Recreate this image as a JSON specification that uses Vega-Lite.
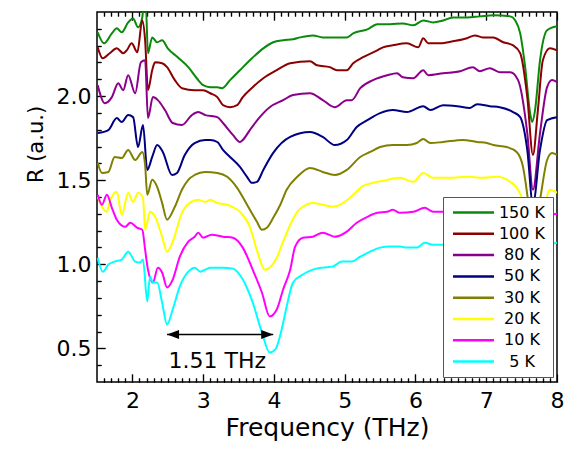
{
  "$schema": "https://vega.github.io/schema/vega-lite/v6.json",
  "width": 460,
  "height": 370,
  "autosize": {"type": "none"},
  "padding": {"left": 97, "top": 12, "right": 17, "bottom": 70},
  "background": "#ffffff",
  "config": {
    "font": "DejaVu Sans",
    "view": {"stroke": "#000000", "strokeWidth": 1.5},
    "axis": {"domain": false, "ticks": true, "tickColor": "black", "tickOpacity": 1, "tickWidth": 1.2, "gridColor": "black", "gridOpacity": 1, "gridWidth": 1.2, "zindex": 2, "labelColor": "#000000", "titleColor": "#000000", "labelFont": "DejaVu Sans", "titleFont": "DejaVu Sans", "titleFontWeight": "normal", "labelFontSize": 22, "titleFontSize": 25, "labelFlush": false, "labelOverlap": false}
  },
  "resolve": {"axis": {"x": "independent", "y": "independent"}},
  "datasets": {
    "spectra": [
      {"T":"150 K","f":1.51,"R":2.379},{"T":"150 K","f":1.60,"R":2.314},{"T":"150 K","f":1.71,"R":2.373},{"T":"150 K","f":1.78,"R":2.403},{"T":"150 K","f":1.85,"R":2.379},{"T":"150 K","f":1.94,"R":2.438},{"T":"150 K","f":2.01,"R":2.462},{"T":"150 K","f":2.08,"R":2.409},{"T":"150 K","f":2.14,"R":2.468},{"T":"150 K","f":2.16,"R":2.54},{"T":"150 K","f":2.19,"R":2.54},{"T":"150 K","f":2.22,"R":2.255},{"T":"150 K","f":2.28,"R":2.349},{"T":"150 K","f":2.35,"R":2.320},{"T":"150 K","f":2.42,"R":2.332},{"T":"150 K","f":2.50,"R":2.284},{"T":"150 K","f":2.64,"R":2.231},{"T":"150 K","f":2.79,"R":2.172},{"T":"150 K","f":2.91,"R":2.106},{"T":"150 K","f":3.00,"R":2.065},{"T":"150 K","f":3.10,"R":2.053},{"T":"150 K","f":3.20,"R":2.053},{"T":"150 K","f":3.27,"R":2.047},{"T":"150 K","f":3.38,"R":2.095},{"T":"150 K","f":3.52,"R":2.154},{"T":"150 K","f":3.66,"R":2.213},{"T":"150 K","f":3.85,"R":2.284},{"T":"150 K","f":3.99,"R":2.320},{"T":"150 K","f":4.13,"R":2.332},{"T":"150 K","f":4.27,"R":2.338},{"T":"150 K","f":4.37,"R":2.349},{"T":"150 K","f":4.55,"R":2.361},{"T":"150 K","f":4.69,"R":2.349},{"T":"150 K","f":4.83,"R":2.349},{"T":"150 K","f":5.03,"R":2.349},{"T":"150 K","f":5.12,"R":2.373},{"T":"150 K","f":5.32,"R":2.397},{"T":"150 K","f":5.46,"R":2.427},{"T":"150 K","f":5.64,"R":2.427},{"T":"150 K","f":5.82,"R":2.432},{"T":"150 K","f":5.97,"R":2.421},{"T":"150 K","f":6.11,"R":2.450},{"T":"150 K","f":6.25,"R":2.438},{"T":"150 K","f":6.39,"R":2.450},{"T":"150 K","f":6.53,"R":2.468},{"T":"150 K","f":6.73,"R":2.468},{"T":"150 K","f":6.91,"R":2.474},{"T":"150 K","f":7.10,"R":2.480},{"T":"150 K","f":7.34,"R":2.474},{"T":"150 K","f":7.41,"R":2.450},{"T":"150 K","f":7.48,"R":2.373},{"T":"150 K","f":7.55,"R":2.172},{"T":"150 K","f":7.62,"R":1.899},{"T":"150 K","f":7.65,"R":1.846},{"T":"150 K","f":7.69,"R":1.917},{"T":"150 K","f":7.76,"R":2.213},{"T":"150 K","f":7.86,"R":2.391},{"T":"150 K","f":8.00,"R":2.415},

      {"T":"100 K","f":1.51,"R":2.290},{"T":"100 K","f":1.58,"R":2.225},{"T":"100 K","f":1.68,"R":2.255},{"T":"100 K","f":1.78,"R":2.284},{"T":"100 K","f":1.87,"R":2.255},{"T":"100 K","f":1.92,"R":2.272},{"T":"100 K","f":1.99,"R":2.314},{"T":"100 K","f":2.07,"R":2.261},{"T":"100 K","f":2.14,"R":2.450},{"T":"100 K","f":2.18,"R":2.332},{"T":"100 K","f":2.22,"R":2.035},{"T":"100 K","f":2.28,"R":2.154},{"T":"100 K","f":2.32,"R":2.201},{"T":"100 K","f":2.42,"R":2.195},{"T":"100 K","f":2.49,"R":2.172},{"T":"100 K","f":2.60,"R":2.095},{"T":"100 K","f":2.70,"R":2.047},{"T":"100 K","f":2.88,"R":2.035},{"T":"100 K","f":3.00,"R":2.035},{"T":"100 K","f":3.10,"R":2.017},{"T":"100 K","f":3.20,"R":1.994},{"T":"100 K","f":3.28,"R":1.946},{"T":"100 K","f":3.38,"R":1.934},{"T":"100 K","f":3.48,"R":1.946},{"T":"100 K","f":3.56,"R":1.994},{"T":"100 K","f":3.70,"R":2.053},{"T":"100 K","f":3.85,"R":2.106},{"T":"100 K","f":4.04,"R":2.154},{"T":"100 K","f":4.23,"R":2.195},{"T":"100 K","f":4.51,"R":2.207},{"T":"100 K","f":4.61,"R":2.183},{"T":"100 K","f":4.79,"R":2.172},{"T":"100 K","f":4.89,"R":2.154},{"T":"100 K","f":5.03,"R":2.154},{"T":"100 K","f":5.12,"R":2.195},{"T":"100 K","f":5.26,"R":2.231},{"T":"100 K","f":5.46,"R":2.272},{"T":"100 K","f":5.54,"R":2.290},{"T":"100 K","f":5.68,"R":2.302},{"T":"100 K","f":5.88,"R":2.314},{"T":"100 K","f":6.04,"R":2.290},{"T":"100 K","f":6.11,"R":2.344},{"T":"100 K","f":6.18,"R":2.314},{"T":"100 K","f":6.35,"R":2.314},{"T":"100 K","f":6.53,"R":2.326},{"T":"100 K","f":6.73,"R":2.344},{"T":"100 K","f":6.84,"R":2.361},{"T":"100 K","f":6.95,"R":2.349},{"T":"100 K","f":7.10,"R":2.349},{"T":"100 K","f":7.24,"R":2.320},{"T":"100 K","f":7.38,"R":2.302},{"T":"100 K","f":7.48,"R":2.255},{"T":"100 K","f":7.58,"R":1.994},{"T":"100 K","f":7.66,"R":1.650},{"T":"100 K","f":7.73,"R":1.917},{"T":"100 K","f":7.80,"R":2.213},{"T":"100 K","f":7.90,"R":2.284},{"T":"100 K","f":8.00,"R":2.272},

      {"T":"80 K","f":1.51,"R":2.065},{"T":"80 K","f":1.61,"R":1.958},{"T":"80 K","f":1.71,"R":1.994},{"T":"80 K","f":1.80,"R":2.077},{"T":"80 K","f":1.87,"R":2.035},{"T":"80 K","f":1.94,"R":2.124},{"T":"80 K","f":2.04,"R":2.017},{"T":"80 K","f":2.12,"R":2.201},{"T":"80 K","f":2.18,"R":2.213},{"T":"80 K","f":2.22,"R":1.869},{"T":"80 K","f":2.29,"R":1.994},{"T":"80 K","f":2.36,"R":1.976},{"T":"80 K","f":2.46,"R":1.917},{"T":"80 K","f":2.57,"R":1.840},{"T":"80 K","f":2.70,"R":1.828},{"T":"80 K","f":2.84,"R":1.887},{"T":"80 K","f":2.93,"R":1.905},{"T":"80 K","f":3.03,"R":1.887},{"T":"80 K","f":3.20,"R":1.875},{"T":"80 K","f":3.28,"R":1.840},{"T":"80 K","f":3.42,"R":1.769},{"T":"80 K","f":3.52,"R":1.727},{"T":"80 K","f":3.56,"R":1.739},{"T":"80 K","f":3.66,"R":1.798},{"T":"80 K","f":3.80,"R":1.875},{"T":"80 K","f":3.94,"R":1.934},{"T":"80 K","f":4.13,"R":1.976},{"T":"80 K","f":4.27,"R":2.006},{"T":"80 K","f":4.51,"R":2.017},{"T":"80 K","f":4.69,"R":1.976},{"T":"80 K","f":4.86,"R":1.934},{"T":"80 K","f":5.03,"R":1.976},{"T":"80 K","f":5.10,"R":1.976},{"T":"80 K","f":5.22,"R":2.047},{"T":"80 K","f":5.40,"R":2.095},{"T":"80 K","f":5.60,"R":2.124},{"T":"80 K","f":5.74,"R":2.136},{"T":"80 K","f":5.82,"R":2.112},{"T":"80 K","f":5.97,"R":2.106},{"T":"80 K","f":6.11,"R":2.154},{"T":"80 K","f":6.18,"R":2.124},{"T":"80 K","f":6.39,"R":2.136},{"T":"80 K","f":6.63,"R":2.148},{"T":"80 K","f":6.81,"R":2.172},{"T":"80 K","f":6.91,"R":2.148},{"T":"80 K","f":7.05,"R":2.166},{"T":"80 K","f":7.19,"R":2.142},{"T":"80 K","f":7.34,"R":2.142},{"T":"80 K","f":7.45,"R":2.095},{"T":"80 K","f":7.58,"R":1.780},{"T":"80 K","f":7.66,"R":1.443},{"T":"80 K","f":7.76,"R":1.780},{"T":"80 K","f":7.86,"R":2.053},{"T":"80 K","f":7.93,"R":2.095},{"T":"80 K","f":8.00,"R":2.083},

      {"T":"50 K","f":1.51,"R":1.780},{"T":"50 K","f":1.66,"R":1.798},{"T":"50 K","f":1.78,"R":1.869},{"T":"50 K","f":1.85,"R":1.846},{"T":"50 K","f":1.94,"R":1.887},{"T":"50 K","f":2.01,"R":1.875},{"T":"50 K","f":2.08,"R":1.697},{"T":"50 K","f":2.15,"R":1.828},{"T":"50 K","f":2.21,"R":1.561},{"T":"50 K","f":2.28,"R":1.638},{"T":"50 K","f":2.35,"R":1.709},{"T":"50 K","f":2.43,"R":1.668},{"T":"50 K","f":2.56,"R":1.531},{"T":"50 K","f":2.63,"R":1.543},{"T":"50 K","f":2.74,"R":1.650},{"T":"50 K","f":2.88,"R":1.721},{"T":"50 K","f":3.03,"R":1.739},{"T":"50 K","f":3.10,"R":1.739},{"T":"50 K","f":3.20,"R":1.727},{"T":"50 K","f":3.28,"R":1.680},{"T":"50 K","f":3.38,"R":1.638},{"T":"50 K","f":3.52,"R":1.579},{"T":"50 K","f":3.62,"R":1.520},{"T":"50 K","f":3.69,"R":1.484},{"T":"50 K","f":3.76,"R":1.490},{"T":"50 K","f":3.85,"R":1.561},{"T":"50 K","f":3.99,"R":1.662},{"T":"50 K","f":4.23,"R":1.757},{"T":"50 K","f":4.51,"R":1.786},{"T":"50 K","f":4.69,"R":1.757},{"T":"50 K","f":4.86,"R":1.709},{"T":"50 K","f":5.03,"R":1.739},{"T":"50 K","f":5.17,"R":1.816},{"T":"50 K","f":5.32,"R":1.857},{"T":"50 K","f":5.50,"R":1.899},{"T":"50 K","f":5.68,"R":1.917},{"T":"50 K","f":5.88,"R":1.905},{"T":"50 K","f":6.11,"R":1.940},{"T":"50 K","f":6.21,"R":1.917},{"T":"50 K","f":6.39,"R":1.946},{"T":"50 K","f":6.59,"R":1.940},{"T":"50 K","f":6.77,"R":1.929},{"T":"50 K","f":6.87,"R":1.952},{"T":"50 K","f":7.05,"R":1.940},{"T":"50 K","f":7.19,"R":1.934},{"T":"50 K","f":7.38,"R":1.905},{"T":"50 K","f":7.48,"R":1.875},{"T":"50 K","f":7.58,"R":1.680},{"T":"50 K","f":7.66,"R":1.354},{"T":"50 K","f":7.76,"R":1.680},{"T":"50 K","f":7.86,"R":1.857},{"T":"50 K","f":8.00,"R":1.875},

      {"T":"30 K","f":1.51,"R":1.603},{"T":"30 K","f":1.57,"R":1.543},{"T":"30 K","f":1.66,"R":1.549},{"T":"30 K","f":1.75,"R":1.638},{"T":"30 K","f":1.85,"R":1.632},{"T":"30 K","f":1.94,"R":1.680},{"T":"30 K","f":2.04,"R":1.620},{"T":"30 K","f":2.14,"R":1.668},{"T":"30 K","f":2.18,"R":1.591},{"T":"30 K","f":2.21,"R":1.413},{"T":"30 K","f":2.28,"R":1.502},{"T":"30 K","f":2.35,"R":1.460},{"T":"30 K","f":2.42,"R":1.365},{"T":"30 K","f":2.49,"R":1.265},{"T":"30 K","f":2.60,"R":1.342},{"T":"30 K","f":2.70,"R":1.443},{"T":"30 K","f":2.79,"R":1.502},{"T":"30 K","f":2.88,"R":1.531},{"T":"30 K","f":3.03,"R":1.549},{"T":"30 K","f":3.20,"R":1.543},{"T":"30 K","f":3.34,"R":1.520},{"T":"30 K","f":3.48,"R":1.454},{"T":"30 K","f":3.62,"R":1.354},{"T":"30 K","f":3.76,"R":1.253},{"T":"30 K","f":3.83,"R":1.205},{"T":"30 K","f":3.90,"R":1.217},{"T":"30 K","f":3.99,"R":1.276},{"T":"30 K","f":4.09,"R":1.354},{"T":"30 K","f":4.18,"R":1.443},{"T":"30 K","f":4.33,"R":1.520},{"T":"30 K","f":4.51,"R":1.573},{"T":"30 K","f":4.69,"R":1.549},{"T":"30 K","f":4.86,"R":1.531},{"T":"30 K","f":5.03,"R":1.561},{"T":"30 K","f":5.22,"R":1.638},{"T":"30 K","f":5.36,"R":1.668},{"T":"30 K","f":5.50,"R":1.697},{"T":"30 K","f":5.68,"R":1.709},{"T":"30 K","f":5.88,"R":1.709},{"T":"30 K","f":6.02,"R":1.721},{"T":"30 K","f":6.11,"R":1.745},{"T":"30 K","f":6.21,"R":1.721},{"T":"30 K","f":6.39,"R":1.727},{"T":"30 K","f":6.67,"R":1.739},{"T":"30 K","f":6.87,"R":1.727},{"T":"30 K","f":7.01,"R":1.721},{"T":"30 K","f":7.10,"R":1.709},{"T":"30 K","f":7.29,"R":1.697},{"T":"30 K","f":7.43,"R":1.668},{"T":"30 K","f":7.52,"R":1.579},{"T":"30 K","f":7.59,"R":1.383},{"T":"30 K","f":7.66,"R":1.146},{"T":"30 K","f":7.76,"R":1.383},{"T":"30 K","f":7.86,"R":1.620},{"T":"30 K","f":7.93,"R":1.662},{"T":"30 K","f":8.00,"R":1.650},

      {"T":"20 K","f":1.51,"R":1.401},{"T":"20 K","f":1.57,"R":1.342},{"T":"20 K","f":1.64,"R":1.312},{"T":"20 K","f":1.68,"R":1.371},{"T":"20 K","f":1.78,"R":1.431},{"T":"20 K","f":1.85,"R":1.294},{"T":"20 K","f":1.94,"R":1.425},{"T":"20 K","f":2.01,"R":1.371},{"T":"20 K","f":2.08,"R":1.425},{"T":"20 K","f":2.15,"R":1.395},{"T":"20 K","f":2.18,"R":1.205},{"T":"20 K","f":2.25,"R":1.312},{"T":"20 K","f":2.32,"R":1.282},{"T":"20 K","f":2.42,"R":1.164},{"T":"20 K","f":2.49,"R":1.075},{"T":"20 K","f":2.57,"R":1.134},{"T":"20 K","f":2.70,"R":1.306},{"T":"20 K","f":2.81,"R":1.365},{"T":"20 K","f":2.93,"R":1.383},{"T":"20 K","f":3.03,"R":1.371},{"T":"20 K","f":3.10,"R":1.383},{"T":"20 K","f":3.20,"R":1.365},{"T":"20 K","f":3.38,"R":1.348},{"T":"20 K","f":3.52,"R":1.312},{"T":"20 K","f":3.66,"R":1.223},{"T":"20 K","f":3.77,"R":1.069},{"T":"20 K","f":3.87,"R":0.968},{"T":"20 K","f":3.94,"R":0.980},{"T":"20 K","f":4.04,"R":1.039},{"T":"20 K","f":4.13,"R":1.134},{"T":"20 K","f":4.23,"R":1.235},{"T":"20 K","f":4.33,"R":1.312},{"T":"20 K","f":4.41,"R":1.342},{"T":"20 K","f":4.55,"R":1.365},{"T":"20 K","f":4.69,"R":1.354},{"T":"20 K","f":4.83,"R":1.342},{"T":"20 K","f":4.98,"R":1.365},{"T":"20 K","f":5.12,"R":1.413},{"T":"20 K","f":5.26,"R":1.466},{"T":"20 K","f":5.40,"R":1.484},{"T":"20 K","f":5.54,"R":1.496},{"T":"20 K","f":5.78,"R":1.514},{"T":"20 K","f":5.97,"R":1.490},{"T":"20 K","f":6.11,"R":1.543},{"T":"20 K","f":6.25,"R":1.514},{"T":"20 K","f":6.49,"R":1.514},{"T":"20 K","f":6.73,"R":1.520},{"T":"20 K","f":6.95,"R":1.514},{"T":"20 K","f":7.15,"R":1.520},{"T":"20 K","f":7.34,"R":1.490},{"T":"20 K","f":7.45,"R":1.443},{"T":"20 K","f":7.51,"R":1.383},{"T":"20 K","f":7.59,"R":1.146},{"T":"20 K","f":7.66,"R":0.850},{"T":"20 K","f":7.76,"R":1.146},{"T":"20 K","f":7.90,"R":1.443},{"T":"20 K","f":8.00,"R":1.425},

      {"T":"10 K","f":1.51,"R":1.413},{"T":"10 K","f":1.57,"R":1.354},{"T":"10 K","f":1.64,"R":1.413},{"T":"10 K","f":1.71,"R":1.336},{"T":"10 K","f":1.78,"R":1.265},{"T":"10 K","f":1.90,"R":1.223},{"T":"10 K","f":1.97,"R":1.247},{"T":"10 K","f":2.07,"R":1.217},{"T":"10 K","f":2.14,"R":1.205},{"T":"10 K","f":2.18,"R":1.087},{"T":"10 K","f":2.22,"R":0.968},{"T":"10 K","f":2.29,"R":0.891},{"T":"10 K","f":2.36,"R":0.980},{"T":"10 K","f":2.42,"R":0.951},{"T":"10 K","f":2.49,"R":0.862},{"T":"10 K","f":2.57,"R":0.909},{"T":"10 K","f":2.67,"R":1.045},{"T":"10 K","f":2.79,"R":1.134},{"T":"10 K","f":2.88,"R":1.164},{"T":"10 K","f":2.93,"R":1.188},{"T":"10 K","f":3.00,"R":1.158},{"T":"10 K","f":3.12,"R":1.176},{"T":"10 K","f":3.28,"R":1.164},{"T":"10 K","f":3.42,"R":1.158},{"T":"10 K","f":3.56,"R":1.099},{"T":"10 K","f":3.70,"R":0.968},{"T":"10 K","f":3.83,"R":0.832},{"T":"10 K","f":3.94,"R":0.690},{"T":"10 K","f":4.04,"R":0.731},{"T":"10 K","f":4.13,"R":0.850},{"T":"10 K","f":4.23,"R":0.968},{"T":"10 K","f":4.30,"R":1.105},{"T":"10 K","f":4.41,"R":1.158},{"T":"10 K","f":4.55,"R":1.164},{"T":"10 K","f":4.69,"R":1.188},{"T":"10 K","f":4.86,"R":1.164},{"T":"10 K","f":5.03,"R":1.194},{"T":"10 K","f":5.17,"R":1.247},{"T":"10 K","f":5.32,"R":1.282},{"T":"10 K","f":5.46,"R":1.306},{"T":"10 K","f":5.60,"R":1.312},{"T":"10 K","f":5.68,"R":1.324},{"T":"10 K","f":5.78,"R":1.306},{"T":"10 K","f":5.97,"R":1.312},{"T":"10 K","f":6.13,"R":1.336},{"T":"10 K","f":6.25,"R":1.312},{"T":"10 K","f":6.39,"R":1.312},{"T":"10 K","f":6.77,"R":1.312},{"T":"10 K","f":7.19,"R":1.306},{"T":"10 K","f":7.41,"R":1.277},{"T":"10 K","f":7.55,"R":1.087},{"T":"10 K","f":7.66,"R":0.672},{"T":"10 K","f":7.76,"R":1.087},{"T":"10 K","f":7.90,"R":1.294},{"T":"10 K","f":8.00,"R":1.300},

      {"T":"5 K","f":1.51,"R":1.039},{"T":"5 K","f":1.58,"R":0.956},{"T":"5 K","f":1.66,"R":0.998},{"T":"5 K","f":1.75,"R":1.016},{"T":"5 K","f":1.85,"R":1.028},{"T":"5 K","f":1.94,"R":1.075},{"T":"5 K","f":2.04,"R":1.016},{"T":"5 K","f":2.11,"R":1.010},{"T":"5 K","f":2.15,"R":1.028},{"T":"5 K","f":2.21,"R":0.779},{"T":"5 K","f":2.25,"R":0.927},{"T":"5 K","f":2.29,"R":0.891},{"T":"5 K","f":2.35,"R":0.891},{"T":"5 K","f":2.42,"R":0.773},{"T":"5 K","f":2.49,"R":0.642},{"T":"5 K","f":2.57,"R":0.731},{"T":"5 K","f":2.67,"R":0.868},{"T":"5 K","f":2.79,"R":0.956},{"T":"5 K","f":2.88,"R":0.980},{"T":"5 K","f":2.96,"R":0.956},{"T":"5 K","f":3.03,"R":0.968},{"T":"5 K","f":3.10,"R":0.980},{"T":"5 K","f":3.28,"R":0.980},{"T":"5 K","f":3.42,"R":0.974},{"T":"5 K","f":3.56,"R":0.909},{"T":"5 K","f":3.70,"R":0.773},{"T":"5 K","f":3.83,"R":0.595},{"T":"5 K","f":3.94,"R":0.476},{"T":"5 K","f":4.02,"R":0.494},{"T":"5 K","f":4.11,"R":0.613},{"T":"5 K","f":4.18,"R":0.749},{"T":"5 K","f":4.27,"R":0.891},{"T":"5 K","f":4.41,"R":0.939},{"T":"5 K","f":4.55,"R":0.968},{"T":"5 K","f":4.69,"R":0.980},{"T":"5 K","f":4.83,"R":0.986},{"T":"5 K","f":4.96,"R":1.016},{"T":"5 K","f":5.10,"R":1.016},{"T":"5 K","f":5.22,"R":1.045},{"T":"5 K","f":5.36,"R":1.075},{"T":"5 K","f":5.50,"R":1.099},{"T":"5 K","f":5.64,"R":1.105},{"T":"5 K","f":5.78,"R":1.105},{"T":"5 K","f":5.88,"R":1.099},{"T":"5 K","f":6.02,"R":1.099},{"T":"5 K","f":6.13,"R":1.128},{"T":"5 K","f":6.25,"R":1.116},{"T":"5 K","f":6.39,"R":1.116},{"T":"5 K","f":6.77,"R":1.110},{"T":"5 K","f":7.19,"R":1.105},{"T":"5 K","f":7.41,"R":1.087},{"T":"5 K","f":7.55,"R":0.909},{"T":"5 K","f":7.66,"R":0.553},{"T":"5 K","f":7.76,"R":0.909},{"T":"5 K","f":7.90,"R":1.116},{"T":"5 K","f":8.00,"R":1.128}
    ],
    "arrow": [{"from": 2.49, "to": 3.99, "R": 0.583}],
    "tips": [{"f": 2.49, "R": 0.583, "end": "left"}, {"f": 3.99, "R": 0.583, "end": "right"}],
    "note": [{"f": 3.2, "R": 0.425, "label": "1.51 THz"}]
  },
  "data": {"name": "spectra"},
  "layer": [
    {
      "mark": {"type": "line", "strokeWidth": 2, "clip": true, "interpolate": "monotone"},
      "encoding": {
        "x": {"field": "f", "type": "quantitative", "scale": {"domain": [1.5, 8], "nice": false, "zero": false},
              "axis": {"orient": "bottom", "offset": -8, "tickSize": 8, "values": [2,3,4,5,6,7,8], "grid": true, "gridDash": [8, 1000], "labelPadding": 8, "title": "Frequency (THz)", "titlePadding": 4}},
        "y": {"field": "R", "type": "quantitative", "scale": {"domain": [0.3, 2.5], "nice": false, "zero": false},
              "axis": {"orient": "left", "offset": -8, "tickSize": 8, "values": [0.5,1,1.5,2], "grid": true, "gridDash": [8, 1000], "format": ".1f", "labelPadding": 6, "title": "R (a.u.)", "titleFontSize": 21, "titleY": 132, "titlePadding": 10}},
        "color": {"field": "T", "type": "nominal",
                  "scale": {"domain": ["150 K","100 K","80 K","50 K","30 K","20 K","10 K","5 K"], "range": ["#0a8a0a","#8b0000","#8b008b","#000080","#808000","#ffff00","#ff00ff","#00ffff"]},
                  "legend": {"orient": "none", "legendX": 346, "legendY": 185, "title": null, "symbolType": "M-2.93,0H2.93", "symbolSize": 196, "symbolStrokeWidth": 2.5, "symbolOffset": 15, "labelOffset": 40, "labelAlign": "center", "labelFont": "DejaVu Sans", "labelFontSize": 16, "labelColor": "#000000", "rowPadding": 4.3, "padding": 7, "strokeColor": "#555555", "fillColor": "#ffffff", "cornerRadius": 0, "zindex": 3}}
      }
    },
    {
      "data": {"name": "arrow"},
      "mark": {"type": "rule", "color": "#000000", "strokeWidth": 1.5},
      "encoding": {
        "x": {"field": "from", "type": "quantitative",
              "axis": {"orient": "bottom", "offset": -4, "tickSize": 4, "grid": true, "gridDash": [4, 1000], "values": [1.6,1.7,1.8,1.9,2.1,2.2,2.3,2.4,2.5,2.6,2.7,2.8,2.9,3.1,3.2,3.3,3.4,3.5,3.6,3.7,3.8,3.9,4.1,4.2,4.3,4.4,4.5,4.6,4.7,4.8,4.9,5.1,5.2,5.3,5.4,5.5,5.6,5.7,5.8,5.9,6.1,6.2,6.3,6.4,6.5,6.6,6.7,6.8,6.9,7.1,7.2,7.3,7.4,7.5,7.6,7.7,7.8,7.9], "labels": false, "title": null}},
        "x2": {"field": "to"},
        "y": {"field": "R", "type": "quantitative",
              "axis": {"orient": "left", "offset": -4, "tickSize": 4, "grid": true, "gridDash": [4, 1000], "values": [0.4,0.6,0.7,0.8,0.9,1.1,1.2,1.3,1.4,1.6,1.7,1.8,1.9,2.1,2.2,2.3,2.4], "labels": false, "title": null}}
      }
    },
    {
      "data": {"name": "tips"},
      "mark": {"type": "point", "filled": true, "color": "#000000", "opacity": 1, "size": 144},
      "encoding": {
        "x": {"field": "f", "type": "quantitative",
              "axis": {"orient": "top", "offset": -8, "tickSize": 8, "grid": true, "gridDash": [8, 1000], "values": [2,3,4,5,6,7], "labels": false, "title": null}},
        "y": {"field": "R", "type": "quantitative", "axis": null},
        "shape": {"field": "end", "type": "nominal", "scale": {"domain": ["left", "right"], "range": ["M0,0L2,-0.75L2,0.75Z", "M0,0L-2,-0.75L-2,0.75Z"]}, "legend": null}
      }
    },
    {
      "data": {"name": "note"},
      "mark": {"type": "text", "font": "DejaVu Sans", "fontSize": 22, "color": "#000000", "align": "center", "baseline": "middle"},
      "encoding": {
        "x": {"field": "f", "type": "quantitative",
              "axis": {"orient": "top", "offset": -4, "tickSize": 4, "grid": true, "gridDash": [4, 1000], "values": [1.6,1.7,1.8,1.9,2.1,2.2,2.3,2.4,2.5,2.6,2.7,2.8,2.9,3.1,3.2,3.3,3.4,3.5,3.6,3.7,3.8,3.9,4.1,4.2,4.3,4.4,4.5,4.6,4.7,4.8,4.9,5.1,5.2,5.3,5.4,5.5,5.6,5.7,5.8,5.9,6.1,6.2,6.3,6.4,6.5,6.6,6.7,6.8,6.9,7.1,7.2,7.3,7.4,7.5,7.6,7.7,7.8,7.9], "labels": false, "title": null}},
        "y": {"field": "R", "type": "quantitative", "axis": null},
        "text": {"field": "label"}
      }
    }
  ]
}
